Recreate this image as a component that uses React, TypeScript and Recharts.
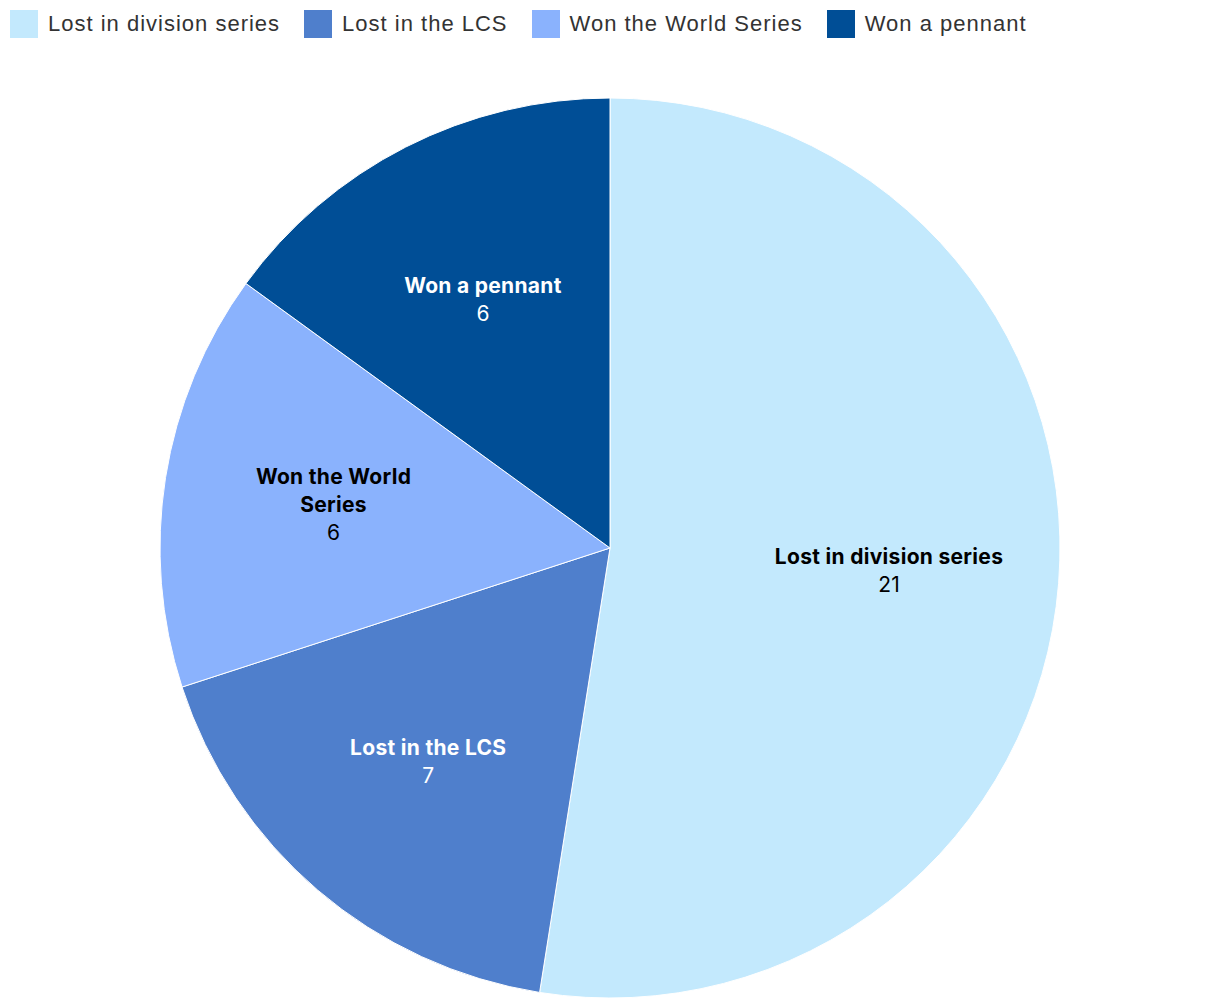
import { PieChart, Pie, Cell } from 'recharts';

const categories = ['Lost in division series', 'Lost in the LCS', 'Won the World Series', 'Won a pennant'];
const counts = [21, 7, 6, 6];
const colors = ['#c3e9fd', '#4f7fcc', '#8ab2fd', '#004e96'];
const labelColors = ['#000000', '#ffffff', '#000000', '#ffffff'];
const labelLines = [['Lost in division series'], ['Lost in the LCS'], ['Won the World', 'Series'], ['Won a pennant']];

const FONT = '"Liberation Sans", Arial, sans-serif';
const LABEL_FONT = 'Inter, "Liberation Sans", sans-serif';

const chartData = categories.map((name, i) => ({ name, value: counts[i] }));

const RADIAN = Math.PI / 180;

function SliceLabel(props: any) {
  const { cx, cy, midAngle, outerRadius, index } = props;
  const r = outerRadius * 0.622;
  const x = cx + r * Math.cos(-midAngle * RADIAN);
  const lines = labelLines[index];
  const total = lines.length + 1;
  const lh = 28;
  const y = cy + r * Math.sin(-midAngle * RADIAN) - ((total - 1) * lh) / 2;
  const fill = labelColors[index];
  return (
    <text x={x} y={y} textAnchor="middle" dominantBaseline="central" fill={fill} fontFamily={LABEL_FONT} fontSize={21}>
      {lines.map((ln, j) => (
        <tspan key={j} x={x} dy={j === 0 ? 0 : lh} fontWeight={700} letterSpacing={0.3}>
          {ln}
        </tspan>
      ))}
      <tspan x={x} dy={lh} fontWeight={400}>
        {counts[index]}
      </tspan>
    </text>
  );
}

function LegendRow() {
  return (
    <div
      style={{
        position: 'absolute',
        top: 10,
        left: 10,
        display: 'flex',
        alignItems: 'center',
        fontFamily: FONT,
        fontSize: 22,
        letterSpacing: 1,
        color: '#333',
        zIndex: 2,
      }}
    >
      {categories.map((c, i) => (
        <div key={c} style={{ display: 'flex', alignItems: 'center', marginRight: 24 }}>
          <div style={{ width: 28, height: 28, background: colors[i], marginRight: 10 }} />
          <span>{c}</span>
        </div>
      ))}
    </div>
  );
}

export default function App() {
  return (
    <div style={{ position: 'fixed', left: 0, top: 0, width: 1220, height: 1008, background: '#fff' }}>
      <LegendRow />
      <PieChart width={1220} height={1008} margin={{ top: 0, right: 0, bottom: 0, left: 0 }}>
        <Pie
          data={chartData}
          dataKey="value"
          nameKey="name"
          cx={610}
          cy={548}
          outerRadius={450}
          startAngle={90}
          endAngle={-270}
          stroke="#ffffff"
          strokeWidth={1}
          labelLine={false}
          label={SliceLabel}
          isAnimationActive={false}
        >
          {chartData.map((d, i) => (
            <Cell key={d.name} fill={colors[i]} />
          ))}
        </Pie>
      </PieChart>
    </div>
  );
}
